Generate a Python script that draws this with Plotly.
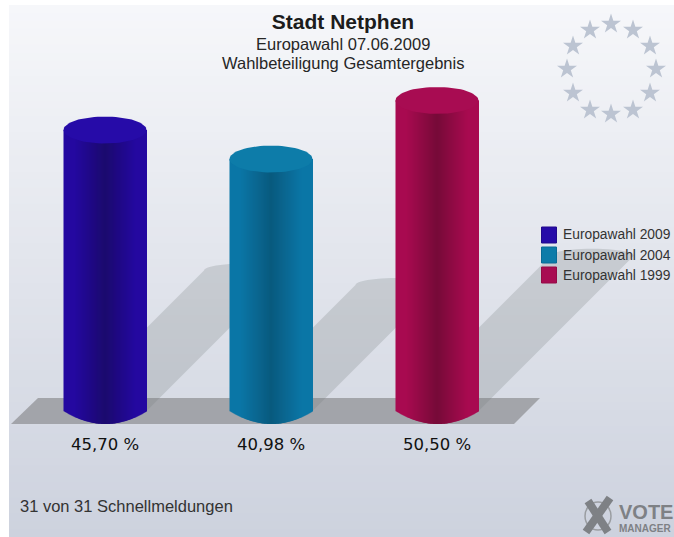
import plotly.graph_objects as go
import math

TITLE = "Stadt Netphen"
SUBTITLES = ["Europawahl 07.06.2009", "Wahlbeteiligung Gesamtergebnis"]
SERIES = ["Europawahl 2009", "Europawahl 2004", "Europawahl 1999"]
VALUES = [45.70, 40.98, 50.50]
VALUE_LABELS = ["45,70 %", "40,98 %", "50,50 %"]
FOOTER = "31 von 31 Schnellmeldungen"
EDGE = [(36, 8, 160), (11, 118, 166), (168, 10, 80)]
CENTER = [(27, 10, 110), (9, 90, 126), (118, 10, 56)]
TOP = ["#260ba8", "#0d7ca9", "#a80c52"]

W, H = 674, 537
AXIS_BOTTOM = 431          # pixel row of the x axis
BASE_PX = 411              # pixel row of value 0
X0_PX, X_STEP = 105, 166   # pixel column of the first bar, spacing
PX_PER_UNIT = 6.15
BAR_W = 83
ELL_B = 13.0
FONT = "Liberation Sans"


def px2x(px):
    return (px - X0_PX) / X_STEP


def px2y(py):
    return (BASE_PX - py) / PX_PER_UNIT


def pap_x(px):
    return px / W


def pap_y(py):
    return 1 - py / AXIS_BOTTOM


def mix(a, b, t):
    return "rgb(%d,%d,%d)" % tuple(round(a[k] + (b[k] - a[k]) * t) for k in range(3))


traces = []
shapes = []
annotations = []

# page background
N_BG = 67
for i in range(N_BG):
    y0 = 5 + (H - 5) * i / N_BG
    y1 = 5 + (H - 5) * (i + 1) / N_BG + 1
    t = i / (N_BG - 1)
    shapes.append(dict(type="rect", xref="paper", yref="paper", layer="below",
                       x0=pap_x(9), x1=pap_x(W), y0=pap_y(y0), y1=pap_y(y1),
                       fillcolor=mix((246, 247, 250), (205, 210, 222), t),
                       line=dict(width=0)))

# ground plane
shapes.append(dict(type="path", xref="x", yref="y", layer="below",
                   path="M%f,%f L%f,%f L%f,%f L%f,%f Z" % (
                       px2x(11), px2y(424), px2x(38), px2y(398),
                       px2x(540), px2y(398), px2x(514), px2y(424)),
                   fillcolor="rgba(120,120,122,0.55)", line=dict(width=0)))

# cast shadows: half-height sheared copy of every cylinder
for i, v in enumerate(VALUES):
    cx = i
    hw = BAR_W / 2 / X_STEP
    h = v / 2
    dx = v * PX_PER_UNIT / 2 / X_STEP
    pts = [(cx - hw, 0), (cx - hw + dx, h)]
    for k in range(1, 24):
        a = math.pi * k / 24
        pts.append((cx + dx - hw * math.cos(a), h + 7 / PX_PER_UNIT * math.sin(a)))
    pts += [(cx + hw + dx, h), (cx + hw, 0)]
    shapes.append(dict(type="path", xref="x", yref="y", layer="below",
                       path="M" + " L".join("%f,%f" % p for p in pts) + " Z",
                       fillcolor="rgba(120,128,128,0.25)", line=dict(width=0)))

# cylinder bodies: one bar trace per series, split into overlapping shaded strips
STRIP = 1.0
for i, (name, v) in enumerate(zip(SERIES, VALUES)):
    xs, ys, bases, widths, offsets, colors = [], [], [], [], [], []
    n_strips = int(BAR_W / STRIP)
    for s in range(n_strips):
        left = -BAR_W / 2 + s * BAR_W / n_strips
        right = BAR_W / 2 if s == n_strips - 1 else left + BAR_W / n_strips + 1
        mid = left + BAR_W / n_strips / 2
        t = min(1, abs(mid) / (BAR_W / 2) * 1.35)
        drop = ELL_B * (1 - (mid / (BAR_W / 2)) ** 2) / PX_PER_UNIT
        xs.append(i)
        ys.append(v + drop)
        bases.append(-drop)
        widths.append((right - left) / X_STEP)
        offsets.append(left / X_STEP)
        colors.append(mix(CENTER[i], EDGE[i], t))
    traces.append(go.Bar(x=xs, y=ys, base=bases, width=widths, offset=offsets, name=name,
                         marker=dict(color=colors, line=dict(width=0)),
                         showlegend=False, hoverinfo="skip"))

# cylinder tops
for i, v in enumerate(VALUES):
    ex, ey = [], []
    for k in range(73):
        a = 2 * math.pi * k / 72
        ex.append(i + BAR_W / 2 / X_STEP * math.cos(a))
        ey.append(v + 13.5 / PX_PER_UNIT * math.sin(a))
    traces.append(go.Scatter(x=ex, y=ey, mode="lines", fill="toself", fillcolor=TOP[i],
                             line=dict(width=0, color=TOP[i]), showlegend=False,
                             hoverinfo="skip"))

# ring of stars
STAR_PX = [(611, 24), (590, 30), (633, 30), (573, 46), (650, 46), (567, 69),
           (656, 69), (573, 93), (650, 93), (590, 110), (633, 110), (611, 114)]
traces.append(go.Scatter(x=[px2x(p[0]) for p in STAR_PX], y=[px2y(p[1]) for p in STAR_PX],
                         mode="markers", showlegend=False, hoverinfo="skip",
                         marker=dict(symbol="star", size=15, color="#bcc4d2", line=dict(width=0))))

# legend
LEG_TOP = [227, 247, 267]
for i, name in enumerate(SERIES):
    shapes.append(dict(type="rect", xref="paper", yref="paper", layer="above",
                       x0=pap_x(541.5), x1=pap_x(556.5), y0=pap_y(LEG_TOP[i]), y1=pap_y(LEG_TOP[i] + 16),
                       fillcolor=TOP[i], line=dict(width=1, color=mix(CENTER[i], EDGE[i], 0.6))))
    annotations.append(dict(xref="paper", yref="paper", x=pap_x(561), y=pap_y(LEG_TOP[i] + 8),
                            text=name, showarrow=False, xanchor="left", yanchor="middle",
                            font=dict(family=FONT, size=13.8, color="#333333")))

# sub titles and footer
for txt, yy in zip(SUBTITLES, [44, 63]):
    annotations.append(dict(xref="paper", yref="paper", x=pap_x(343), y=pap_y(yy), text=txt,
                            showarrow=False, xanchor="center", yanchor="middle",
                            font=dict(family=FONT, size=16.5, color="#262626")))
annotations.append(dict(xref="paper", yref="paper", x=pap_x(18), y=pap_y(506), text=FOOTER,
                        showarrow=False, xanchor="left", yanchor="middle",
                        font=dict(family=FONT, size=16.5, color="#333333")))

# logo
GREY = "#7e8185"
shapes.append(dict(type="circle", xref="paper", yref="paper", layer="above",
                   x0=pap_x(585), x1=pap_x(611), y0=pap_y(502), y1=pap_y(530),
                   line=dict(width=1.5, color="#9a9da1")))
shapes.append(dict(type="line", xref="paper", yref="paper", layer="above",
                   x0=pap_x(588), y0=pap_y(501), x1=pap_x(608), y1=pap_y(532),
                   line=dict(width=8, color=GREY)))
shapes.append(dict(type="line", xref="paper", yref="paper", layer="above",
                   x0=pap_x(610), y0=pap_y(498), x1=pap_x(586), y1=pap_y(532),
                   line=dict(width=8, color=GREY)))
annotations.append(dict(xref="paper", yref="paper", x=pap_x(617), y=pap_y(536),
                        text="<span style='font-size:20px'><b>VOTE</b></span><br><b>MANAGER</b>",
                        showarrow=False, xanchor="left", yanchor="bottom", align="left",
                        font=dict(family=FONT, size=10, color=GREY)))

fig = go.Figure(traces)
fig.update_layout(
    width=W, height=H, autosize=False,
    margin=dict(l=0, r=0, t=0, b=H - AXIS_BOTTOM, pad=0),
    paper_bgcolor="white", plot_bgcolor="rgba(0,0,0,0)",
    barmode="overlay", showlegend=False,
    title=dict(text="<b>" + TITLE + "</b>", x=343 / W, xanchor="center", xref="paper",
               y=1 - 22 / H, yanchor="middle",
               font=dict(family=FONT, size=21, color="#1c1c1c")),
    shapes=shapes, annotations=annotations,
    xaxis=dict(range=[px2x(0), px2x(W)], tickmode="array", tickvals=list(range(len(VALUES))),
               ticktext=VALUE_LABELS, showgrid=False, zeroline=False, showline=False,
               ticks="", fixedrange=True, ticklabelstandoff=1,
               tickfont=dict(family="DejaVu Sans", size=16.5, color="#111111")),
    yaxis=dict(range=[px2y(AXIS_BOTTOM), px2y(0)], visible=False, showgrid=False,
               zeroline=False, fixedrange=True),
)
fig.write_html("out.html", config=dict(displayModeBar=False),
               post_script="document.body.style.margin='0';document.documentElement.style.overflow='hidden';")
